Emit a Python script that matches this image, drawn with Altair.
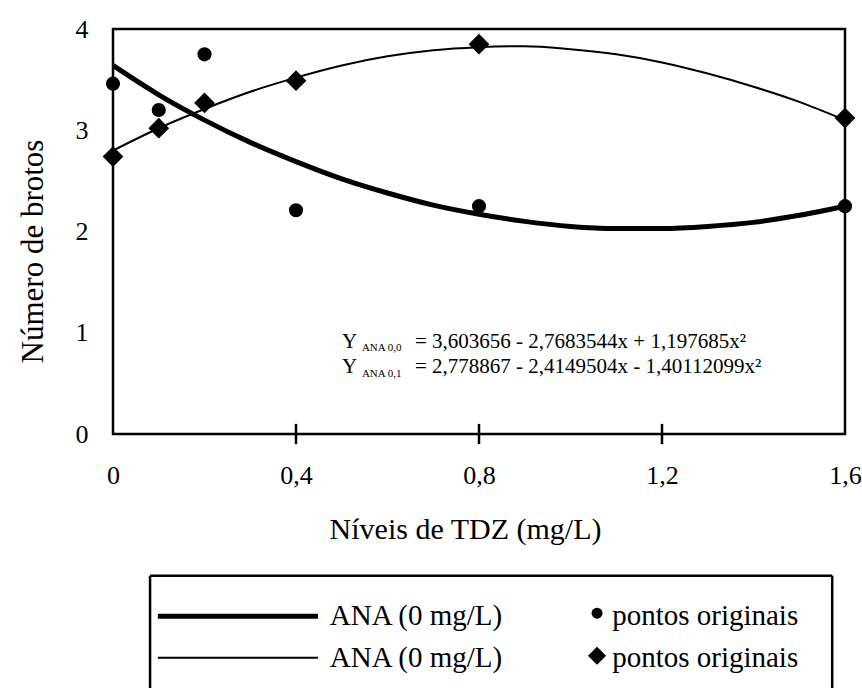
import altair as alt
import pandas as pd

# ---------------- data ----------------
curve_x = [0.0, 0.1, 0.2, 0.3, 0.4, 0.5, 0.6, 0.7, 0.8, 0.9, 1.0, 1.1, 1.2, 1.3, 1.4, 1.5, 1.6]
ana00_curve = [3.64, 3.35, 3.10, 2.88, 2.69, 2.52, 2.38, 2.26, 2.17, 2.10, 2.05, 2.03, 2.03, 2.05, 2.09, 2.16, 2.25]
ana01_curve = [2.80, 3.02, 3.21, 3.38, 3.52, 3.64, 3.73, 3.79, 3.82, 3.83, 3.80, 3.75, 3.67, 3.56, 3.43, 3.28, 3.10]

points_x = [0.0, 0.1, 0.2, 0.4, 0.8, 1.6]
ana00_points = [3.46, 3.20, 3.75, 2.21, 2.25, 2.25]
ana01_points = [2.74, 3.02, 3.27, 3.49, 3.85, 3.12]

x_tick_values = [0.0, 0.4, 0.8, 1.2, 1.6]
y_tick_values = [0, 1, 2, 3, 4]
inner_ticks = [0.4, 0.8, 1.2]

eq_subscripts = ["ANA 0,0", "ANA 0,1"]
eq_texts = ["= 3,603656 - 2,7683544x + 1,197685x²",
            "= 2,778867 - 2,4149504x - 1,40112099x²"]
legend_curve_labels = ["ANA (0 mg/L)", "ANA (0 mg/L)"]
legend_point_labels = ["pontos originais", "pontos originais"]

FONT = "Liberation Serif"

# ---------------- scales ----------------
xs = alt.Scale(domain=[0, 1.6], nice=False, zero=False)
ys = alt.Scale(domain=[0, 4], nice=False, zero=False)

X = lambda f="x": alt.X(f"{f}:Q", scale=xs, axis=alt.Axis(
    values=x_tick_values, labelExpr="replace(format(datum.value, '.1~f'), '.', ',')",
    labelFont=FONT, labelFontSize=26, labelColor="black", labelPadding=28,
    labelFlush=False, labelOverlap=False, ticks=False, domain=False, grid=False,
    title="Níveis de TDZ (mg/L)", titleFont=FONT, titleFontSize=30,
    titleFontWeight="normal", titleColor="black", titleX=352, titleY=104,
    titleBaseline="alphabetic", titleAlign="center"))
Y = lambda f="y": alt.Y(f"{f}:Q", scale=ys, axis=alt.Axis(
    values=y_tick_values, labelFont=FONT, labelFontSize=26, labelColor="black",
    labelPadding=25, ticks=False, domain=False, grid=False,
    title="Número de brotos", titleFont=FONT, titleFontSize=31,
    titleFontWeight="normal", titleColor="black", titleAngle=270,
    titleX=-71, titleY=222, titleBaseline="alphabetic", titleAlign="center"))

curves = pd.DataFrame({"x": curve_x + curve_x,
                       "y": ana00_curve + ana01_curve,
                       "s": ["a"] * len(curve_x) + ["b"] * len(curve_x)})
pts00 = pd.DataFrame({"x": points_x, "y": ana00_points})
pts01 = pd.DataFrame({"x": points_x, "y": ana01_points})

thick = alt.Chart(curves[curves.s == "a"]).mark_line(
    color="black", strokeWidth=5, interpolate="monotone").encode(x=X(), y=Y())
thin = alt.Chart(curves[curves.s == "b"]).mark_line(
    color="black", strokeWidth=2, interpolate="monotone").encode(x=X(), y=Y())
circ = alt.Chart(pts00).mark_point(shape="circle", filled=True, color="black",
                                   size=200, opacity=1).encode(x=X(), y=Y())
diam = alt.Chart(pts01).mark_point(shape="diamond", filled=True, color="black",
                                   size=430, opacity=1).encode(x=X(), y=Y())

# tick marks crossing the x axis
ticks_df = pd.DataFrame({"x": inner_ticks, "y": [-0.1] * 3, "y2": [0.1] * 3})
tick_rules = alt.Chart(ticks_df).mark_rule(color="black", strokeWidth=2.5).encode(
    x=X(), y=Y(), y2="y2:Q")

# equations (placed in data coordinates)
eq_df = pd.DataFrame({"x": [0.5005, 0.5005], "y": [0.85, 0.602], "t": ["Y", "Y"]})
eq_y = alt.Chart(eq_df).mark_text(font=FONT, fontSize=21, align="left",
                                  baseline="alphabetic", color="black").encode(
    x=X(), y=Y(), text="t:N")
sub_df = pd.DataFrame({"x": [0.544, 0.544], "y": [0.815, 0.567], "t": eq_subscripts})
eq_sub = alt.Chart(sub_df).mark_text(font=FONT, fontSize=11, align="left",
                                     baseline="alphabetic", color="black").encode(
    x=X(), y=Y(), text="t:N")
main_df = pd.DataFrame({"x": [0.66, 0.66], "y": [0.85, 0.602], "t": eq_texts})
eq_main = alt.Chart(main_df).mark_text(font=FONT, fontSize=21, align="left",
                                       baseline="alphabetic", color="black").encode(
    x=X(), y=Y(), text="t:N")

# legend drawn below the plot
box_df = pd.DataFrame({"x": [0.081, 0.081, 1.572], "x2": [1.572, 0.081, 1.572],
                       "y": [-1.40, -1.40, -1.40], "y2": [-1.40, -2.55, -2.55]})
box = alt.Chart(box_df).mark_rule(color="black", strokeWidth=2.5).encode(
    x=X(), x2="x2:Q", y=Y(), y2="y2:Q")
leg_thick_df = pd.DataFrame({"x": [0.098], "x2": [0.448], "y": [-1.80], "y2": [-1.80]})
leg_thick = alt.Chart(leg_thick_df).mark_rule(color="black", strokeWidth=5).encode(
    x=X(), x2="x2:Q", y=Y(), y2="y2:Q")
leg_thin_df = pd.DataFrame({"x": [0.098], "x2": [0.448], "y": [-2.21], "y2": [-2.21]})
leg_thin = alt.Chart(leg_thin_df).mark_rule(color="black", strokeWidth=2).encode(
    x=X(), x2="x2:Q", y=Y(), y2="y2:Q")
leg_txt_df = pd.DataFrame({"x": [0.474, 0.474, 1.091, 1.091],
                           "y": [-1.80, -2.21, -1.80, -2.21],
                           "t": legend_curve_labels + legend_point_labels})
leg_txt = alt.Chart(leg_txt_df).mark_text(font=FONT, fontSize=29, align="left",
                                          baseline="middle", color="black").encode(
    x=X(), y=Y(), text="t:N")
leg_c = alt.Chart(pd.DataFrame({"x": [1.058], "y": [-1.77]})).mark_point(
    shape="circle", filled=True, color="black", size=120, opacity=1).encode(x=X(), y=Y())
leg_d = alt.Chart(pd.DataFrame({"x": [1.058], "y": [-2.19]})).mark_point(
    shape="diamond", filled=True, color="black", size=330, opacity=1).encode(x=X(), y=Y())

chart = alt.layer(thick, thin, circ, diam, tick_rules, eq_y, eq_sub, eq_main,
                  box, leg_thick, leg_thin, leg_txt, leg_c, leg_d).properties(
    width=732, height=405,
    autosize=alt.AutoSizeParams(type="none"),
    padding={"left": 113, "top": 29, "right": 17, "bottom": 254},
    background="white",
).configure_view(stroke="black", strokeWidth=2.5)

chart.save("out.html", embed_options={"renderer": "svg", "actions": False})
